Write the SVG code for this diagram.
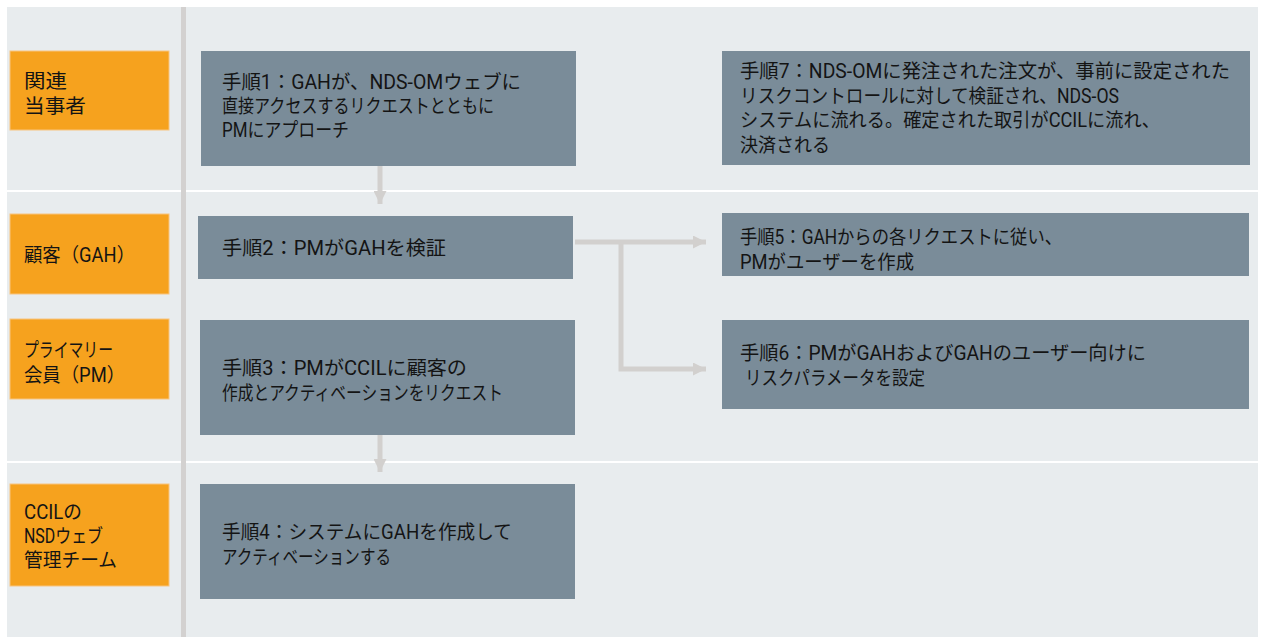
<svg xmlns="http://www.w3.org/2000/svg" width="1268" height="637" viewBox="0 0 1268 637">
<defs>
<style>
.bg{fill:#e8ecee}
.sep{stroke:#ffffff;stroke-width:2}
.bar{fill:#d3d1d0}
.actor{fill:#f6a21e;stroke:#f8c47f;stroke-width:1}
.step{fill:#7a8c99}
.t{font-family:Roboto,"Noto Sans CJK JP",sans-serif;font-size:19.5px;fill:#141414}
.conn{fill:none;stroke:#d2d0ce;stroke-width:5}
</style>
<marker id="ah" markerUnits="userSpaceOnUse" markerWidth="13" markerHeight="13" refX="13" refY="6.5" orient="auto">
<path d="M0,0 L13,6.5 L0,13 Z" fill="#d2d0ce"/>
</marker>
</defs>
<rect class="bg" x="7" y="7" width="1251" height="630"/>
<line class="sep" x1="7" y1="191" x2="1258" y2="191"/>
<line class="sep" x1="7" y1="462" x2="1258" y2="462"/>
<rect class="bar" x="181" y="7" width="5" height="630"/>

<g id="connectors">
<path class="conn" d="M380,166 V204" marker-end="url(#ah)"/>
<path class="conn" d="M380,435 V472" marker-end="url(#ah)"/>
<path class="conn" d="M575,242 H706" marker-end="url(#ah)"/>
<path class="conn" d="M621,242 V369 H706" marker-end="url(#ah)"/>
</g>

<g id="actor-related">
<rect class="actor" x="10" y="51" width="159" height="79"/>
<text class="t" x="24" y="88" textLength="43" lengthAdjust="spacingAndGlyphs">関連</text>
<text class="t" x="24" y="112.5" textLength="62" lengthAdjust="spacingAndGlyphs">当事者</text>
</g>
<g id="actor-gah">
<rect class="actor" x="10" y="214" width="159" height="80"/>
<text class="t" x="24" y="262" textLength="111" lengthAdjust="spacingAndGlyphs">顧客（GAH）</text>
</g>
<g id="actor-pm">
<rect class="actor" x="10" y="319" width="159" height="80"/>
<text class="t" x="24" y="356.5" textLength="89" lengthAdjust="spacingAndGlyphs">プライマリー</text>
<text class="t" x="24" y="382" textLength="101" lengthAdjust="spacingAndGlyphs">会員（PM）</text>
</g>
<g id="actor-ccil">
<rect class="actor" x="10" y="484" width="159" height="102"/>
<text class="t" x="24" y="519" textLength="58" lengthAdjust="spacingAndGlyphs">CCILの</text>
<text class="t" x="24" y="543" textLength="79" lengthAdjust="spacingAndGlyphs">NSDウェブ</text>
<text class="t" x="24" y="567" textLength="93" lengthAdjust="spacingAndGlyphs">管理チーム</text>
</g>

<g id="step1">
<rect class="step" x="201" y="51" width="375" height="115"/>
<text class="t" x="222" y="88.5" textLength="299" lengthAdjust="spacingAndGlyphs">手順1：GAHが、NDS-OMウェブに</text>
<text class="t" x="222" y="112.5" textLength="272" lengthAdjust="spacingAndGlyphs">直接アクセスするリクエストとともに</text>
<text class="t" x="222" y="136.5" textLength="127" lengthAdjust="spacingAndGlyphs">PMにアプローチ</text>
</g>
<g id="step2">
<rect class="step" x="198" y="216" width="375" height="63"/>
<text class="t" x="222" y="255" textLength="224" lengthAdjust="spacingAndGlyphs">手順2：PMがGAHを検証</text>
</g>
<g id="step3">
<rect class="step" x="200" y="320" width="375" height="115"/>
<text class="t" x="222" y="375" textLength="245" lengthAdjust="spacingAndGlyphs">手順3：PMがCCILに顧客の</text>
<text class="t" x="222" y="400" textLength="281" lengthAdjust="spacingAndGlyphs">作成とアクティベーションをリクエスト</text>
</g>
<g id="step4">
<rect class="step" x="200" y="484" width="375" height="115"/>
<text class="t" x="222" y="538.5" textLength="290" lengthAdjust="spacingAndGlyphs">手順4：システムにGAHを作成して</text>
<text class="t" x="222" y="563.5" textLength="169" lengthAdjust="spacingAndGlyphs">アクティベーションする</text>
</g>
<g id="step5">
<rect class="step" x="722" y="213" width="527" height="63"/>
<text class="t" x="740" y="243.5" textLength="322" lengthAdjust="spacingAndGlyphs">手順5：GAHからの各リクエストに従い、</text>
<text class="t" x="740" y="268.5" textLength="174" lengthAdjust="spacingAndGlyphs">PMがユーザーを作成</text>
</g>
<g id="step6">
<rect class="step" x="722" y="320" width="527" height="89"/>
<text class="t" x="740" y="359.5" textLength="406" lengthAdjust="spacingAndGlyphs">手順6：PMがGAHおよびGAHのユーザー向けに</text>
<text class="t" x="745" y="384.5" textLength="180" lengthAdjust="spacingAndGlyphs">リスクパラメータを設定</text>
</g>
<g id="step7">
<rect class="step" x="722" y="51" width="528" height="114"/>
<text class="t" x="740" y="78" textLength="490" lengthAdjust="spacingAndGlyphs">手順7：NDS-OMに発注された注文が、事前に設定された</text>
<text class="t" x="740" y="102.5" textLength="379" lengthAdjust="spacingAndGlyphs">リスクコントロールに対して検証され、NDS-OS</text>
<text class="t" x="740" y="127" textLength="420" lengthAdjust="spacingAndGlyphs">システムに流れる。確定された取引がCCILに流れ、</text>
<text class="t" x="740" y="151.5" textLength="90" lengthAdjust="spacingAndGlyphs">決済される</text>
</g>
</svg>
